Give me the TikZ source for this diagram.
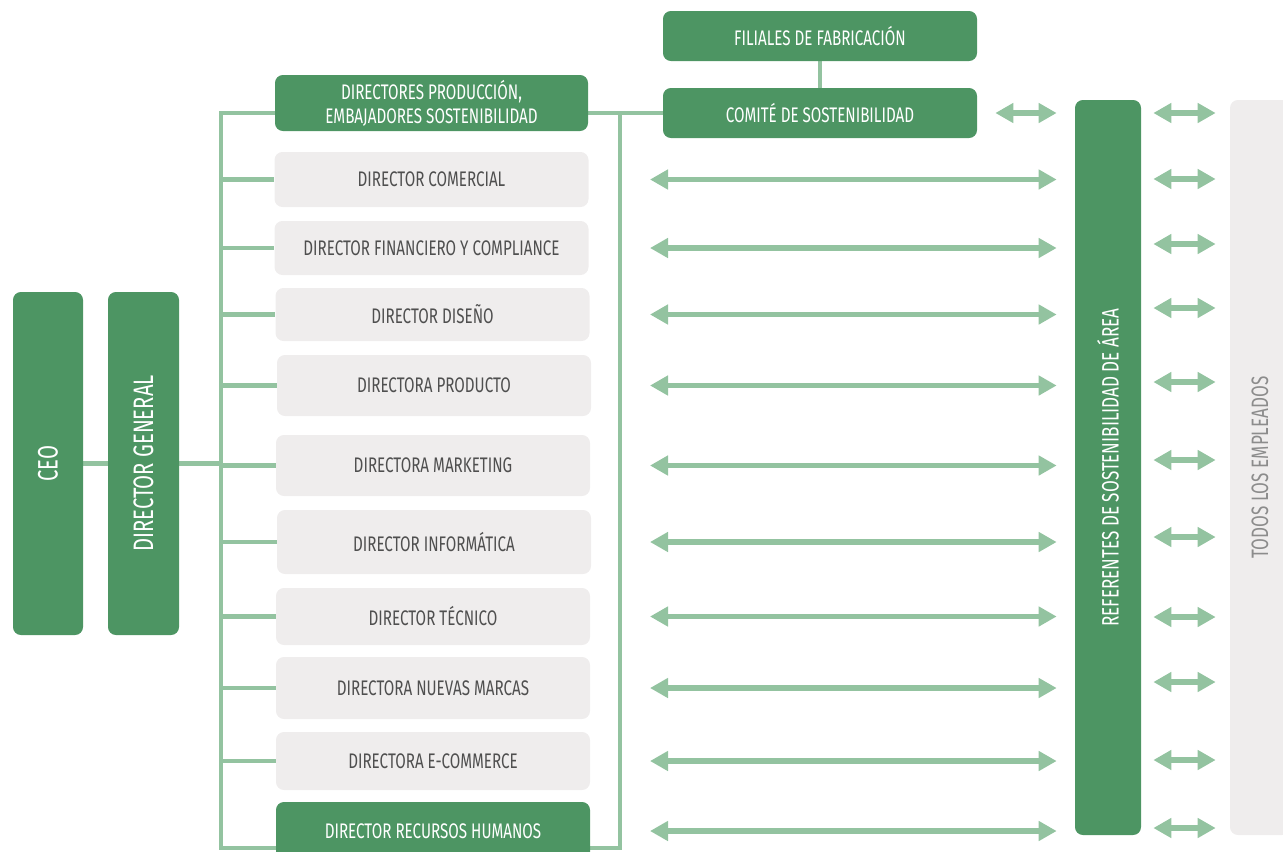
\documentclass[tikz,border=0pt]{standalone}
\usepackage{fontspec}
\setmainfont{Fira Sans}[FakeStretch=0.72]
\usepackage{xcolor}
\usepackage{tikz}
\usetikzlibrary{arrows.meta,backgrounds}

\definecolor{darkgreen}{HTML}{4D9563}
\definecolor{lightgreen}{HTML}{93C3A0}
\definecolor{boxgray}{HTML}{EFEDED}
\definecolor{textgray}{HTML}{4F4F4F}
\definecolor{emptext}{HTML}{8C8C8C}

\begin{document}
\begin{tikzpicture}[
    box/.style={rectangle, rounded corners=4.5pt, inner sep=0pt, align=center, font=\fontsize{12}{13.5}\selectfont},
    gbox/.style={box, fill=boxgray, text=textgray, minimum width=6.28cm},
    dbox/.style={box, fill=darkgreen, text=white},
    bus/.style={draw=lightgreen, line width=2.8pt},
    dbl/.style={{Triangle[width=0.38cm,length=0.36cm]}-{Triangle[width=0.38cm,length=0.36cm]}, draw=lightgreen, line width=3.3pt}
  ]
    \clip (0,0) rectangle (25.66,-17.02);

    % Nodes
    \node[dbox, rotate=90, minimum width=6.86cm, minimum height=1.40cm, font=\fontsize{16}{18}\selectfont] (ceo) at (0.96,-9.27) {CEO};
    \node[dbox, rotate=90, minimum width=6.86cm, minimum height=1.42cm, font=\fontsize{16}{18}\selectfont] (dg) at (2.87,-9.27) {DIRECTOR GENERAL};

    \node[dbox, minimum width=6.26cm, minimum height=1.12cm] (prod) at (8.63,-2.06) {DIRECTORES PRODUCCIÓN,\\EMBAJADORES SOSTENIBILIDAD};
    \node[gbox, minimum height=1.10cm] (com) at (8.63,-3.59) {DIRECTOR COMERCIAL};
    \node[gbox, minimum height=1.08cm] (fin) at (8.63,-4.96) {DIRECTOR FINANCIERO Y COMPLIANCE};
    \node[gbox, minimum height=1.06cm] (dis) at (8.65,-6.29) {DIRECTOR DISEÑO};
    \node[gbox, minimum height=1.22cm] (pro) at (8.68,-7.71) {DIRECTORA PRODUCTO};
    \node[gbox, minimum height=1.22cm] (mkt) at (8.66,-9.31) {DIRECTORA MARKETING};
    \node[gbox, minimum height=1.28cm] (inf) at (8.68,-10.84) {DIRECTOR INFORMÁTICA};
    \node[gbox, minimum height=1.14cm] (tec) at (8.66,-12.33) {DIRECTOR TÉCNICO};
    \node[gbox, minimum height=1.24cm] (nue) at (8.66,-13.76) {DIRECTORA NUEVAS MARCAS};
    \node[gbox, minimum height=1.16cm] (eco) at (8.66,-15.22) {DIRECTORA E-COMMERCE};
    \node[dbox, minimum width=6.28cm, minimum height=1.16cm] (rrhh) at (8.66,-16.62) {DIRECTOR RECURSOS HUMANOS};

    \node[dbox, minimum width=6.28cm, minimum height=1.00cm] (fil) at (16.40,-0.72) {FILIALES DE FABRICACIÓN};
    \node[dbox, minimum width=6.28cm, minimum height=1.00cm] (comite) at (16.40,-2.26) {COMITÉ DE SOSTENIBILIDAD};

    \node[dbox, rotate=90, minimum width=14.70cm, minimum height=1.32cm, font=\fontsize{13.5}{15}\selectfont] (ref) at (22.16,-9.35) {REFERENTES DE SOSTENIBILIDAD DE ÁREA};
    \node[box, rotate=90, fill=boxgray, text=emptext, minimum width=14.70cm, minimum height=1.20cm, font=\fontsize{13.5}{15}\selectfont] (emp) at (25.20,-9.35) {TODOS LOS EMPLEADOS};

    % Lines
    \coordinate (busTL) at (4.42,-2.26);
    \coordinate (busBL) at (4.42,-16.96);
    \coordinate (busBR) at (12.40,-16.96);
    \coordinate (busTR) at (12.40,-2.26);
    \begin{scope}[on background layer]
      \draw[bus] (ceo.south) -- (dg.north);
      \draw[bus] (dg.south) -- (busTL |- dg.south);
      \draw[bus] (prod.west |- busTL) -- (busTL) -- (busBL) -- (busBR) -- (busTR);
      \draw[bus] (prod.east |- busTR) -- (comite.west);
      \foreach \n in {com,fin,dis,pro,mkt,inf,tec,nue,eco}
        \draw[bus] (busTL |- \n) -- (\n.west);
      \draw[bus] (fil.south) -- (comite.north);
    \end{scope}

    % Arrows
    \coordinate (arrL) at (13.0,0);
    \draw[dbl, shorten <=0.36cm, shorten >=0.36cm] (comite.east) -- (ref.north |- comite);
    \foreach \n in {com,fin,dis,pro,mkt,inf,tec,nue,eco,rrhh}
      \draw[dbl, shorten >=0.36cm] (arrL |- \n) -- (ref.north |- \n);
    \foreach \y in {-2.26,-3.58,-4.88,-6.16,-7.64,-9.20,-10.74,-12.34,-13.64,-15.20,-16.56} {
      \coordinate (row) at (0,\y);
      \draw[dbl, shorten <=0.24cm, shorten >=0.28cm] (ref.south |- row) -- (emp.north |- row);
    }
  \end{tikzpicture}
\end{document}
